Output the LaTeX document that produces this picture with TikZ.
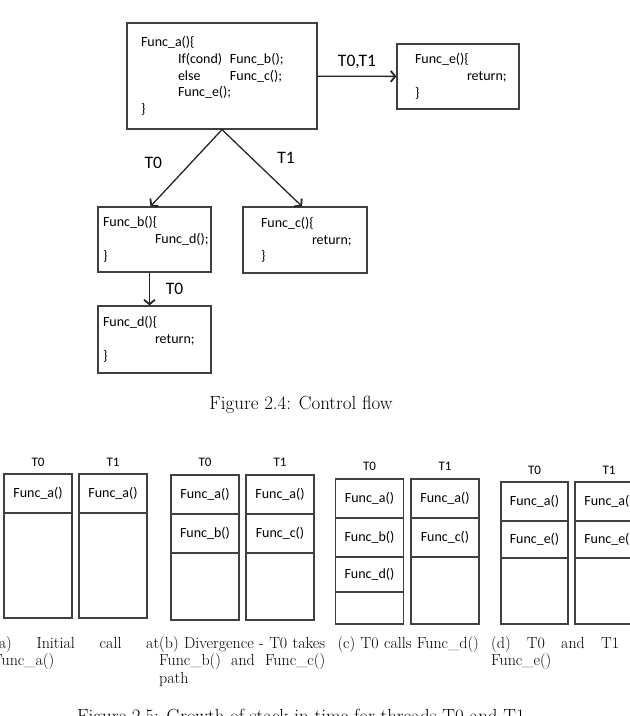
\documentclass[tikz,border=0pt]{standalone}
\usepackage{fontspec}
\newfontfamily\calibri{Carlito}
\usetikzlibrary{arrows.meta,positioning}
\hbadness=10000
\hfuzz=30pt
\newcommand\nohyph{\hyphenpenalty10000\relax}

\tikzset{
	codebox/.style={draw=black!75, line width=1.2pt, rectangle, align=left, inner ysep=0pt,
		font={\calibri\fontsize{14pt}{16.7pt}\selectfont\nohyph}},
	flow/.style={draw=black!85, line width=1.3pt, -{Straight Barb[length=4.5pt,width=11pt,line width=1.8pt]}},
	lab/.style={font=\calibri\fontsize{17.5pt}{20pt}\selectfont, inner sep=0pt},
	stk/.style={draw=black!75, line width=1.2pt, minimum width=68pt, inner sep=0pt, outer sep=0pt},
	frm/.style={draw=black!75, line width=1.2pt, minimum width=68pt, minimum height=39pt, inner sep=0pt,
		outer sep=0pt, anchor=north, font=\calibri\fontsize{14pt}{16pt}\selectfont},
	thr/.style={font=\calibri\fontsize{13pt}{15pt}\selectfont, inner sep=0pt},
	subcap/.style={text width=166pt, inner sep=0pt, anchor=north west, align=justify,
		font=\fontsize{16pt}{17.5pt}\selectfont},
	figcap/.style={inner sep=0pt, anchor=base, font=\fontsize{19pt}{23pt}\selectfont}
}

\begin{document}
\begin{tikzpicture}[x=1pt, y=-1pt]
	
		\useasboundingbox (0,0) rectangle (630,716);
		\clip (0,0) rectangle (630,716);
		
		% control flow
		\node[codebox, minimum height=106pt, text width=162pt, inner xsep=14pt] (fa) at (222,76)
			{Func\_a()\{\\
			\hspace*{37pt}\makebox[52pt][l]{If(cond)}Func\_b();\\
			\hspace*{37pt}\makebox[52pt][l]{else}Func\_c();\\
			\hspace*{37pt}Func\_e();\\
			\}};
		\node[codebox, minimum height=65pt, text width=86pt, inner xsep=18pt] (fe) at (458,76.5)
			{Func\_e()\{\\ \hspace*{52pt}return;\\ \}};
		\node[codebox, minimum height=65pt, text width=103pt, inner xsep=5pt] (fb) at (154.5,239.5)
			{Func\_b()\{\\ \hspace*{52pt}Func\_d();\\ \}};
		\node[codebox, minimum height=66pt, text width=88pt, inner xsep=18pt] (fc) at (305,240)
			{Func\_c()\{\\ \hspace*{51pt}return;\\ \}};
		\node[codebox, minimum height=67pt, text width=103pt, inner xsep=5pt] (fd) at (154.5,339.5)
			{Func\_d()\{\\ \hspace*{52pt}return;\\ \}};
		
		\draw[flow] (fa) -- node[lab, above=7pt] (l01) {T0,T1} (fe);
		\draw[flow] (fa.south) -- node[lab, xshift=-33pt, yshift=5pt] (l0a) {T0} ([xshift=-4pt]fb.north);
		\draw[flow] (fa.south) -- node[lab, xshift=24pt, yshift=10pt] (l1) {T1} ([xshift=-3pt]fc.north);
		\draw[flow] ([xshift=-5pt]fb.south) -- node[lab, xshift=25pt] (l0b) {T0} ([xshift=-5pt]fd.north);
		
		\node[figcap] (cap4) at (301,409.5) {Figure 2.4: Control flow};
		
		% stacks (a)
		\node[stk, minimum height=144pt] (a0) at (38,546) {};
		\node[frm] (a0f1) at (a0.north) {Func\_a()};
		\node[thr, above=7pt of a0] (a0t) {T0};
		\node[stk, minimum height=144pt] (a1) at (113,546) {};
		\node[frm] (a1f1) at (a1.north) {Func\_a()};
		\node[thr, above=7pt of a1] (a1t) {T1};
		
		% stacks (b)
		\node[stk, minimum height=145pt] (b0) at (205,547.5) {};
		\node[frm] (b0f1) at (b0.north) {Func\_a()};
		\node[frm] (b0f2) at (b0f1.south) {Func\_b()};
		\node[thr, above=8pt of b0] (b0t) {T0};
		\node[stk, minimum height=145pt] (b1) at (280,547.5) {};
		\node[frm] (b1f1) at (b1.north) {Func\_a()};
		\node[frm] (b1f2) at (b1f1.south) {Func\_c()};
		\node[thr, above=8pt of b1] (b1t) {T1};
		
		% stacks (c)
		\node[stk, minimum height=145pt] (c0) at (369.5,551.5) {};
		\node[frm] (c0f1) at (c0.north) {Func\_a()};
		\node[frm] (c0f2) at (c0f1.south) {Func\_b()};
		\node[frm, minimum height=35pt] (c0f3) at (c0f2.south) {Func\_d()};
		\node[thr, above=8pt of c0] (c0t) {T0};
		\node[stk, minimum height=145pt] (c1) at (445,551.5) {};
		\node[frm] (c1f1) at (c1.north) {Func\_a()};
		\node[frm] (c1f2) at (c1f1.south) {Func\_c()};
		\node[thr, above=8pt of c1] (c1t) {T1};
		
		% stacks (d)
		\node[stk, minimum height=142pt, minimum width=67pt] (d0) at (534.5,553) {};
		\node[frm, minimum width=67pt] (d0f1) at (d0.north) {Func\_a()};
		\node[frm, minimum width=67pt, minimum height=37pt] (d0f2) at (d0f1.south) {Func\_e()};
		\node[thr, above=7pt of d0] (d0t) {T0};
		\node[stk, minimum height=142pt] (d1) at (609,553) {};
		\node[frm] (d1f1) at (d1.north) {Func\_a()};
		\node[frm, minimum height=37pt] (d1f2) at (d1f1.south) {Func\_e()};
		\node[thr, above=7pt of d1] (d1t) {T1};
		
		% sub captions
		\node[subcap] (capa) at (-7,636) {(a) Initial call at\linebreak Func\_a()};
		\node[subcap] (capb) at (159,636) {(b) Divergence - T0 takes\linebreak Func\_b() and Func\_c()\linebreak path};
		\node[subcap, align=center] (capc) at (325,636) {(c) T0 calls Func\_d()};
		\node[subcap] (capd) at (491,636) {(d) T0 and T1 call\linebreak Func\_e()};
		
		\node[figcap, anchor=base west] (cap5) at (77,722) {Figure 2.5: Growth of stack in time for threads T0 and T1};
		
	\end{tikzpicture}
\end{document}
